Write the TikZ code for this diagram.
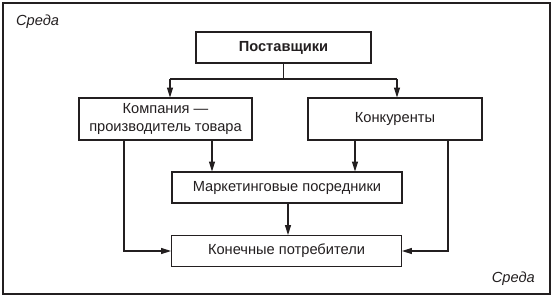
\documentclass[tikz,border=0pt]{standalone}
\usepackage{fontspec}
\setmainfont{Liberation Sans}
\usetikzlibrary{positioning, arrows.meta, calc}
\definecolor{srink}{HTML}{231F20}

\begin{document}
\begin{tikzpicture}[x=0.03cm, y=-0.03cm,
    every node/.style={text=srink},
    blok/.style={draw=srink, line width=0.9pt, fill=white, inner sep=0pt,
                 font=\fontsize{12.5}{15.5}\selectfont, align=center},
    arr/.style={draw=srink, line width=0.9pt, -{Triangle[length=8.5pt, width=5.2pt]}},
    ln/.style={draw=srink, line width=0.9pt}]
  \useasboundingbox (0,0) rectangle (557,299);
  \draw[draw=srink, line width=1.1pt] (3,3) rectangle (550,294);
  \node[anchor=base west, font=\fontsize{12.5}{14}\selectfont\itshape] (sr1) at (12,25) {Среда};
  \node[anchor=base east, font=\fontsize{12.5}{14}\selectfont\itshape] (sr2) at (539,282) {Среда};

  \node[blok, font=\fontsize{12.5}{15.5}\selectfont\bfseries,
        minimum width=5.25cm, minimum height=0.93cm] (post) at (283.5,47.5) {Поставщики};
  \node[blok, minimum width=5.19cm, minimum height=1.26cm] (komp) at (165.5,119)
        {Компания —\\производитель товара};
  \node[blok, minimum width=5.22cm, minimum height=1.26cm] (konk) at (395,119) {Конкуренты};
  \node[blok, minimum width=6.9cm, minimum height=0.93cm] (mark) at (287,187.5)
        {Маркетинговые посредники};
  \node[blok, minimum width=6.9cm, minimum height=0.93cm] (kon) at (286.5,251)
        {Конечные потребители};

  % bus from the suppliers
  \coordinate (bus) at (283.5,79);
  \coordinate (busL) at (170,79);
  \coordinate (busR) at (397,79);
  \draw[ln] (post.south) -- (bus);
  \draw[ln] (busL) -- (busR);
  \draw[arr] (busL) -- (busL |- komp.north);
  \draw[arr] (busR) -- (busR |- konk.north);

  % down to the intermediaries
  \coordinate (k1) at (212,140);
  \coordinate (k2) at (355,140);
  \draw[arr] (k1) -- (k1 |- mark.north);
  \draw[arr] (k2) -- (k2 |- mark.north);
  \draw[arr] (mark.south -| 288,0) -- (kon.north -| 288,0);

  % side lines to the consumers
  \coordinate (s1) at (124,140);
  \coordinate (s2) at (448,140);
  \draw[arr] (s1) |- (kon.west);
  \draw[arr] (s2) |- (kon.east);
\end{tikzpicture}
\end{document}
